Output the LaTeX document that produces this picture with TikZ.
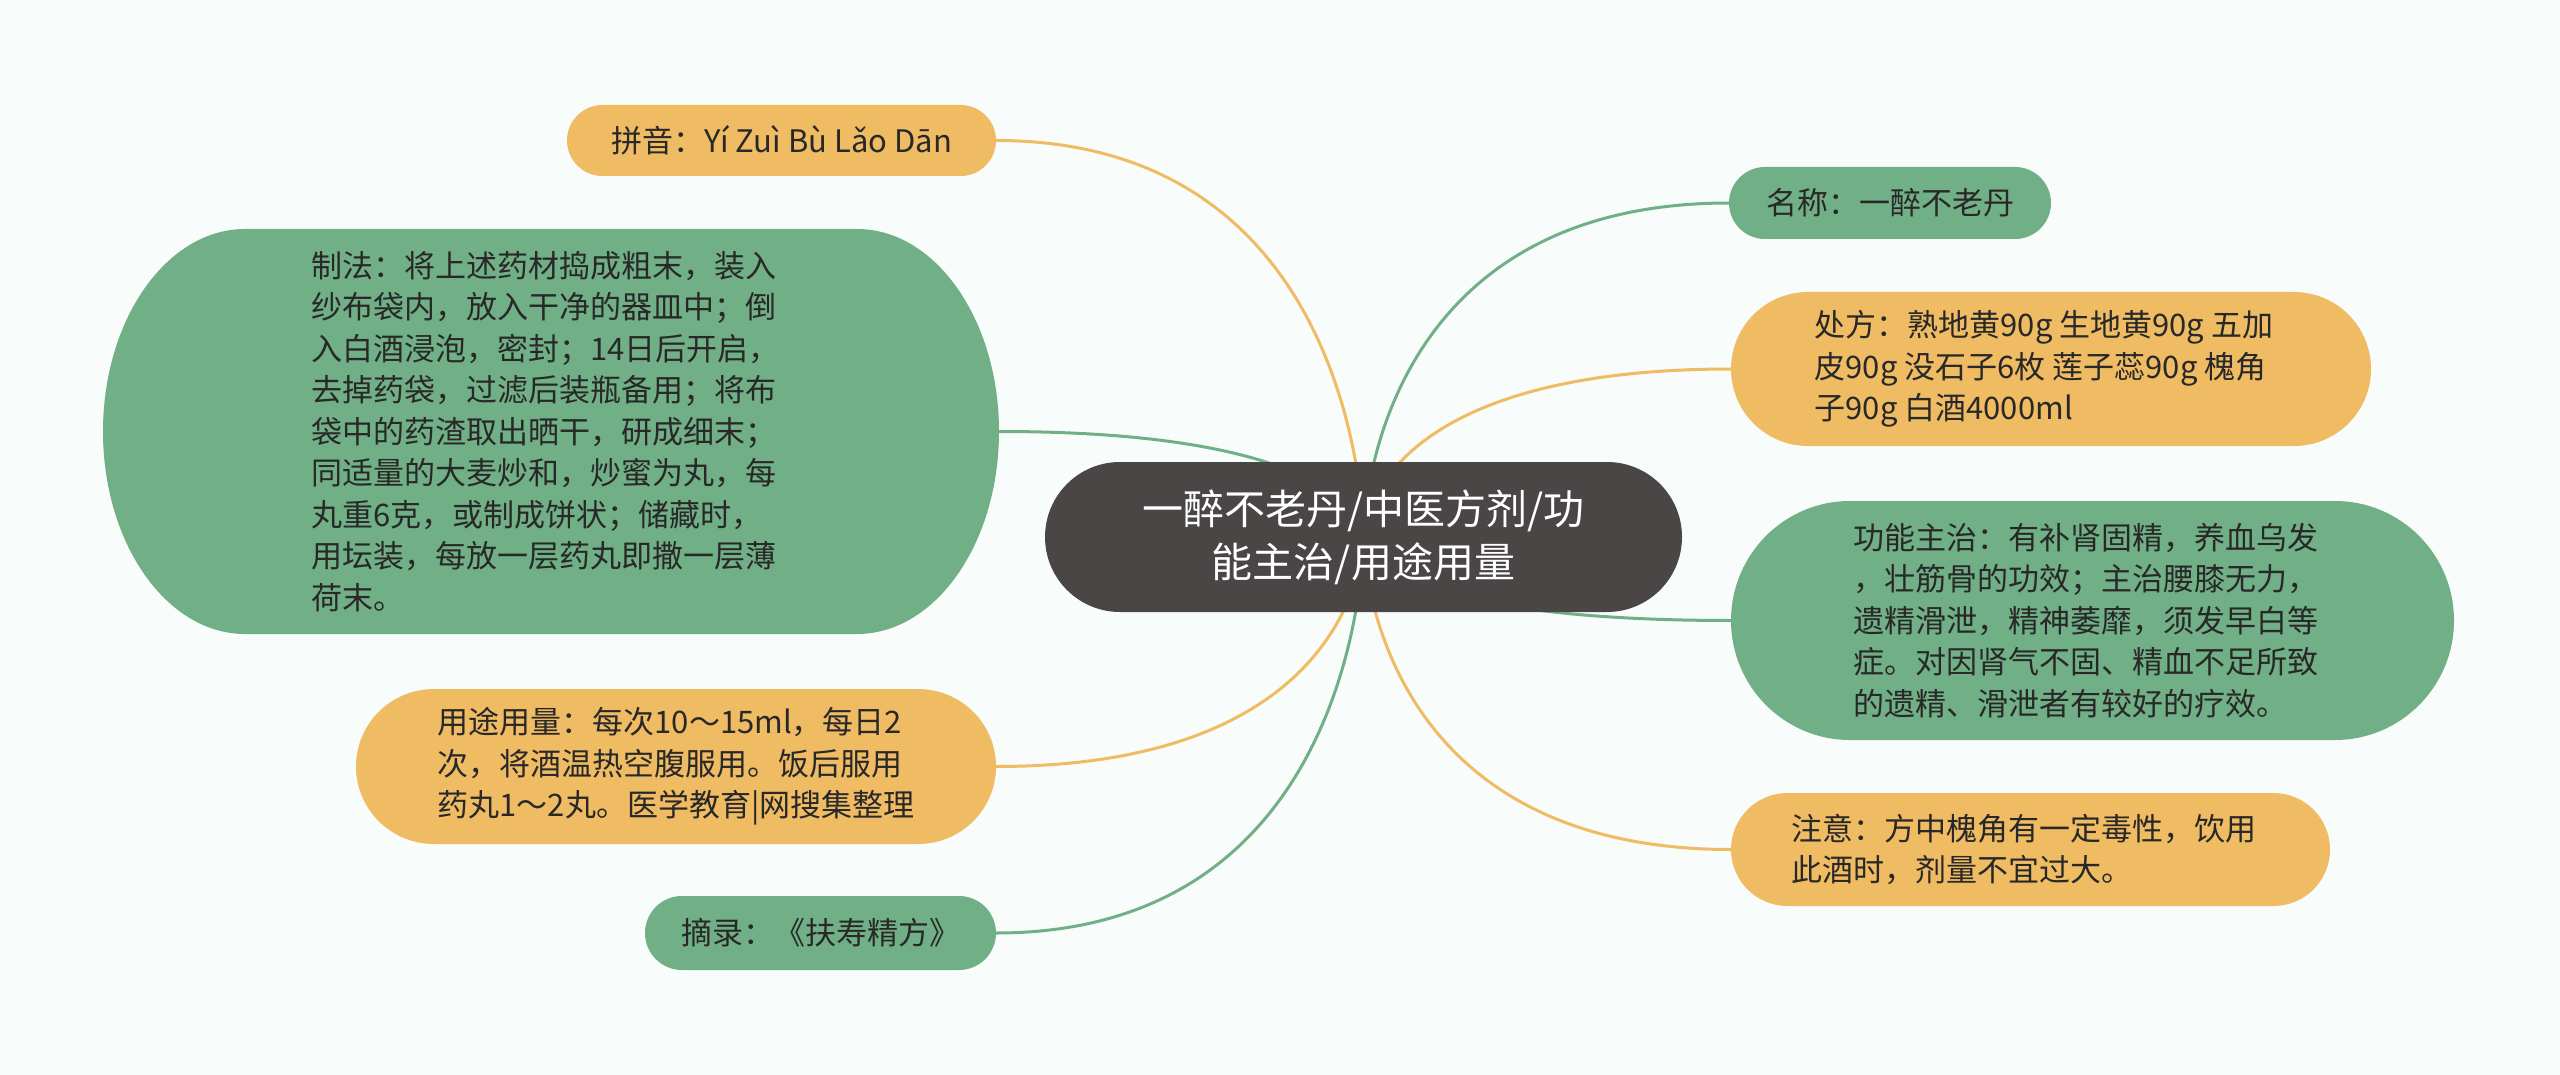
\documentclass[tikz,border=0pt]{standalone}
\usepackage{fontspec}
\setmainfont{Noto Sans CJK SC}
\usetikzlibrary{calc,backgrounds}
\definecolor{bgc}{RGB}{248,252,250}
\definecolor{og}{RGB}{239,187,99}
\definecolor{gn}{RGB}{113,175,134}
\definecolor{dk}{RGB}{74,70,70}
\definecolor{tx}{RGB}{40,40,40}
\tikzset{
  capsule/.style n args={4}{
    minimum width=#2, minimum height=#3, inner sep=0pt, align=left, text=tx,
    font=\fontsize{31}{41.5}\selectfont,
    path picture={
      \fill[#1] let \p1=(path picture bounding box.north west),
                    \p2=(path picture bounding box.south east),
                    \n1={(\y1-\y2)/2} in
        (\x1+#4,\y1) -- (\x2-#4,\y1)
        arc[start angle=90,end angle=-90,x radius=#4,y radius=\n1]
        -- (\x1+#4,\y2)
        arc[start angle=270,end angle=90,x radius=#4,y radius=\n1]
        -- cycle;
    }
  },
  conn/.style={line width=3pt},
}
\begin{document}
\begin{tikzpicture}[x=1pt,y=-1pt]
\useasboundingbox (0,0) rectangle (2560,1075);
% central
\node[capsule={dk}{637pt}{150pt}{75pt}, text=white, align=center,
      font=\fontsize{41}{53}\selectfont] (c) at (1363.5,537)
  {一醉不老丹/中医方剂/功\\能主治/用途用量};
% left side
\node[capsule={og}{429pt}{71pt}{35.5pt}] (py) at (781.5,140.5)
  {拼音：Yí Zuì Bù Lǎo Dān};
\node[capsule={gn}{896pt}{405pt}{142pt}] (zf) at (551,431.5)
  {制法：将上述药材捣成粗末，装入\hspace*{14pt}\\
   纱布袋内，放入干净的器皿中；倒\\
   入白酒浸泡，密封；14日后开启，\\
   去掉药袋，过滤后装瓶备用；将布\\
   袋中的药渣取出晒干，研成细末；\\
   同适量的大麦炒和，炒蜜为丸，每\\
   丸重6克，或制成饼状；储藏时，\\
   用坛装，每放一层药丸即撒一层薄\\
   荷末。};
\node[capsule={og}{640pt}{155pt}{78pt}] (yt) at (676,766.5)
  {用途用量：每次10～15ml，每日2\\
   次，将酒温热空腹服用。饭后服用\\
   药丸1～2丸。医学教育|网搜集整理};
\node[capsule={gn}{351pt}{74pt}{37pt}] (zl) at (820.5,933)
  {摘录：《扶寿精方》};
% right side
\node[capsule={gn}{322pt}{72pt}{36pt}] (mc) at (1890,203)
  {名称：一醉不老丹};
\node[capsule={og}{640pt}{154pt}{77pt}] (cf) at (2051,369)
  {处方：熟地黄90g 生地黄90g 五加\hspace*{14pt}\\
   皮90g 没石子6枚 莲子蕊90g 槐角\\
   子90g 白酒4000ml};
\node[capsule={gn}{723pt}{239pt}{119pt}] (gn) at (2092.5,620.5)
  {功能主治：有补肾固精，养血乌发\hspace*{14pt}\\
   ，壮筋骨的功效；主治腰膝无力，\\
   遗精滑泄，精神萎靡，须发早白等\\
   症。对因肾气不固、精血不足所致\\
   的遗精、滑泄者有较好的疗效。};
\node[capsule={og}{599pt}{113pt}{56.5pt}] (zy) at (2030.5,849.5)
  {注意：方中槐角有一定毒性，饮用\hspace*{14pt}\\
   此酒时，剂量不宜过大。};
\begin{scope}[on background layer]
  \fill[bgc] (0,0) rectangle (2560,1075);
  \draw[conn,og] (c.center) .. controls (c.center) and (c.center |- py.east) .. (py.east);
  \draw[conn,gn] (c.center) .. controls (c.center) and (c.center |- zf.east) .. (zf.east);
  \draw[conn,og] (c.center) .. controls (c.center) and (c.center |- yt.east) .. (yt.east);
  \draw[conn,gn] (c.center) .. controls (c.center) and (c.center |- zl.east) .. (zl.east);
  \draw[conn,gn] (c.center) .. controls (c.center) and (c.center |- mc.west) .. (mc.west);
  \draw[conn,og] (c.center) .. controls (c.center) and (c.center |- cf.west) .. (cf.west);
  \draw[conn,gn] (c.center) .. controls (c.center) and (c.center |- gn.west) .. (gn.west);
  \draw[conn,og] (c.center) .. controls (c.center) and (c.center |- zy.west) .. (zy.west);
\end{scope}
\end{tikzpicture}
\end{document}
